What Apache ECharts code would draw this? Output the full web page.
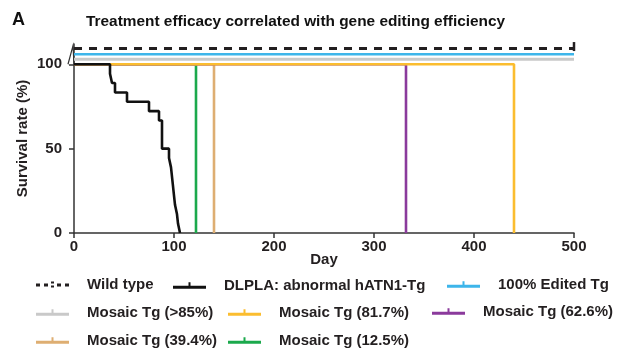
<!DOCTYPE html>
<html>
<head>
<meta charset="utf-8">
<script src="https://cdn.jsdelivr.net/npm/echarts@6/dist/echarts.min.js"></script>
<style>html,body{margin:0;padding:0;background:#fff;}#c{width:625px;height:360px;}</style>
</head>
<body>
<div id="c"></div>
<script>
// ---- data ----
const seriesNames = ['Wild type','DLPLA: abnormal hATN1-Tg','100% Edited Tg','Mosaic Tg (>85%)','Mosaic Tg (81.7%)','Mosaic Tg (62.6%)','Mosaic Tg (39.4%)','Mosaic Tg (12.5%)'];
// DLPLA Kaplan-Meier steps
const dlplaDays     = [0, 36, 38, 41, 53, 75, 85, 88, 95, 97, 99, 100, 101, 103, 104, 106];
const dlplaSurvival = [100, 94.4, 88.9, 83.3, 77.8, 72.2, 66.7, 50, 44.4, 38.9, 27.8, 22.2, 16.7, 11.1, 5.6, 0];
// groups that survive the whole study (drawn offset above 100 for visibility)
const wildTypeDays = [0, 500];       const wildTypeLevel = [109.3, 109.3];
const edited100Days = [0, 500];      const edited100Level = [105.9, 105.9];
const mosaic85Days = [0, 500];       const mosaic85Level = [103, 103];
// mosaic groups: single death day each (survival 100 -> 0)
const mosaic817Days = [0, 440];      const mosaic817Surv = [100, 0];
const mosaic626Days = [0, 332];      const mosaic626Surv = [100, 0];
const mosaic394Days = [0, 140];      const mosaic394Surv = [100, 0];
const mosaic125Days = [0, 122];      const mosaic125Surv = [100, 0];
const xTicks = [0, 100, 200, 300, 400, 500];
const yTicks = [0, 50, 100];

const zip = (a, b) => a.map((v, i) => [v, b[i]]);
const FONT = 'Liberation Sans, Arial, sans-serif';
const TXT = '#231f20';

const colors = {
  'Wild type': '#231f20',
  'DLPLA: abnormal hATN1-Tg': '#111111',
  '100% Edited Tg': '#3db5ea',
  'Mosaic Tg (>85%)': '#c9c9c9',
  'Mosaic Tg (81.7%)': '#fbbd2f',
  'Mosaic Tg (62.6%)': '#8b3a9c',
  'Mosaic Tg (39.4%)': '#deae72',
  'Mosaic Tg (12.5%)': '#1ba94c'
};

function lineSeries(name, data, extra) {
  return Object.assign({
    name: name, type: 'line', data: data, step: 'end', showSymbol: false, symbol: 'none',
    animation: false, color: colors[name],
    lineStyle: { color: colors[name], width: 2.6 }, silent: true
  }, extra || {});
}

// end-of-study censor tick on the last point
function withEndTick(data, size) {
  return data.map((p, i) => i === data.length - 1
    ? { value: p, symbol: 'rect', symbolSize: size, symbolOffset: [0, -2] }
    : { value: p, symbol: 'none' });
}

const series = [
  lineSeries('Mosaic Tg (12.5%)', zip(mosaic125Days, mosaic125Surv)),
  lineSeries('Mosaic Tg (39.4%)', zip(mosaic394Days, mosaic394Surv)),
  lineSeries('Mosaic Tg (62.6%)', zip(mosaic626Days, mosaic626Surv)),
  lineSeries('Mosaic Tg (81.7%)', zip(mosaic817Days, mosaic817Surv)),
  lineSeries('Mosaic Tg (>85%)', zip(mosaic85Days, mosaic85Level), {lineStyle:{color:colors['Mosaic Tg (>85%)'], width:3}}),
  lineSeries('100% Edited Tg', zip(edited100Days, edited100Level), {lineStyle:{color:colors['100% Edited Tg'], width:2.6}}),
  lineSeries('Wild type', withEndTick(zip(wildTypeDays, wildTypeLevel), [2.5, 9]),
    {showSymbol: true, lineStyle:{color:colors['Wild type'], width:3, type:[8,7]}, itemStyle:{color:colors['Wild type']}}),
  lineSeries('DLPLA: abnormal hATN1-Tg', zip(dlplaDays, dlplaSurvival), {lineStyle:{color:colors['DLPLA: abnormal hATN1-Tg'], width:2.6}})
];

const tickIcon = 'path://M0,4L33,4L33,7L0,7Z M15.5,0.5L17.5,0.5L17.5,4L15.5,4Z';
const dashIcon = 'path://M0,3L4,3L4,6L0,6Z M8,3L12,3L12,6L8,6Z M15,1L18,1L18,3L15,3Z M15,5L18,5L18,7L15,7Z M21,3L25,3L25,6L21,6Z M29,3L33,3L33,6L29,6Z';

// legend placement: [name, left, top]
const legendPos = [
  ['Wild type', 36, 277],
  ['DLPLA: abnormal hATN1-Tg', 173, 278],
  ['100% Edited Tg', 447, 277],
  ['Mosaic Tg (>85%)', 36, 305],
  ['Mosaic Tg (81.7%)', 228, 305],
  ['Mosaic Tg (62.6%)', 432, 304],
  ['Mosaic Tg (39.4%)', 36, 333],
  ['Mosaic Tg (12.5%)', 228, 333]
];
const legends = legendPos.map(([n, l, t]) => ({
  data: [n], left: l, top: t, padding: 0, itemWidth: 33, itemHeight: 7,
  icon: n === 'Wild type' ? dashIcon : tickIcon, selectedMode: false,
  itemStyle: { borderWidth: 0 },
  textStyle: { fontFamily: FONT, fontSize: 15, fontWeight: 'bold', color: TXT, padding: [0, 0, 0, 13] }
}));

const chart = echarts.init(document.getElementById('c'), null, { renderer: 'canvas' });
chart.setOption({
  animation: false,
  backgroundColor: '#ffffff',
  title: [
    { text: 'A', left: 12, top: 11, padding: 0, textStyle: { fontFamily: FONT, fontSize: 18, fontWeight: 'bold', color: '#111' } },
    { text: 'Treatment efficacy correlated with gene editing efficiency', left: 86, top: 14, padding: 0,
      textStyle: { fontFamily: FONT, fontSize: 15.4, fontWeight: 'bold', color: '#111' } }
  ],
  legend: legends,
  grid: { left: 74, right: 51, top: 44, bottom: 127, containLabel: false },
  xAxis: {
    type: 'value', min: 0, max: 500, interval: 100,
    name: 'Day', nameLocation: 'middle', nameGap: 19, nameMoveOverlap: false,
    nameTextStyle: { fontFamily: FONT, fontSize: 15, fontWeight: 'bold', color: TXT },
    axisLine: { lineStyle: { color: '#333', width: 1.5 } },
    axisTick: { show: true, length: 5, lineStyle: { color: '#333', width: 1.5 } },
    axisLabel: { fontFamily: FONT, fontSize: 15, fontWeight: 'bold', color: TXT, margin: 6,
      customValues: xTicks },
    splitLine: { show: false }
  },
  yAxis: {
    type: 'value', min: 0, max: 112, interval: 50,
    name: 'Survival rate (%)', nameLocation: 'middle', nameGap: 44, nameMoveOverlap: false,
    nameTextStyle: { fontFamily: FONT, fontSize: 15, fontWeight: 'bold', color: TXT },
    axisLine: { show: true, lineStyle: { color: '#333', width: 1.5 } },
    axisTick: { show: true, length: 5, lineStyle: { color: '#333', width: 1.5 }, customValues: yTicks },
    axisLabel: { fontFamily: FONT, fontSize: 15, fontWeight: 'bold', color: TXT, margin: 12,
      customValues: yTicks },
    splitLine: { show: false }
  },
  series: series
});

// small axis-break mark at the top of the y axis
const pLow = chart.convertToPixel({ gridIndex: 0 }, [0, 100]);
const pHigh = chart.convertToPixel({ gridIndex: 0 }, [0, 111]);
chart.setOption({
  graphic: [{
    type: 'polyline', silent: true,
    shape: { points: [[pLow[0] - 6, pLow[1]], [pHigh[0] - 1, pHigh[1]], [pLow[0], pLow[1]]] },
    style: { stroke: '#333', lineWidth: 1.2, fill: null }
  }]
});
</script>
</body>
</html>
